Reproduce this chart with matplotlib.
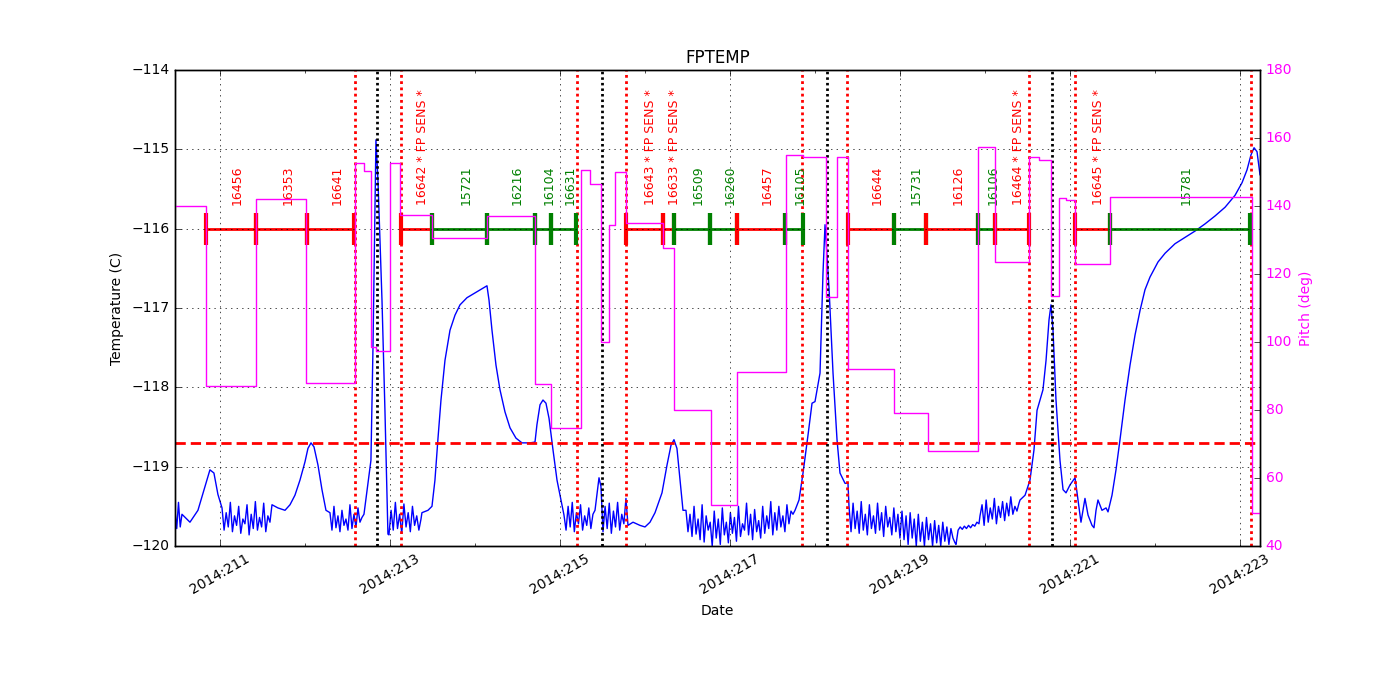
import numpy as np
import matplotlib
matplotlib.use("Agg")
import matplotlib.pyplot as plt
from matplotlib.ticker import FixedLocator, FuncFormatter

plt.style.use("classic")
plt.rcParams["figure.facecolor"] = "white"
plt.rcParams["savefig.facecolor"] = "white"
plt.rcParams["font.size"] = 10
plt.rcParams["font.family"] = ["DejaVu Sans"]

# ---- FPTEMP (day of 2014, degC) ----
# smooth stretches are (day, temp) pairs, noisy stretches are (day0, day1, temps)
fp_start = (210.471, 210.553, [-119.55, -119.78, -119.45, -119.76, -119.60])
fp_bump_1 = [(210.647, -119.70), (210.741, -119.55), (210.824, -119.25), (210.882, -119.04),
             (210.929, -119.08), (210.976, -119.35)]
fp_noise_b = (211.024, 211.588, [-119.52, -119.80, -119.58, -119.76, -119.45, -119.82, -119.62, -119.74,
                                 -119.50, -119.84, -119.66, -119.72, -119.48, -119.86, -119.60, -119.78,
                                 -119.44, -119.80, -119.64, -119.76, -119.46, -119.82, -119.62, -119.70])
fp_bump_2 = [(211.612, -119.48), (211.682, -119.52), (211.765, -119.55), (211.824, -119.48),
             (211.882, -119.36), (211.941, -119.17), (212.0, -118.94), (212.035, -118.77),
             (212.071, -118.70), (212.106, -118.75), (212.153, -118.98), (212.2, -119.29),
             (212.247, -119.55)]
fp_noise_c = (212.294, 212.694, [-119.58, -119.80, -119.50, -119.77, -119.62, -119.82, -119.55, -119.74,
                                 -119.66, -119.80, -119.48, -119.78, -119.60, -119.76, -119.52, -119.70,
                                 -119.64, -119.60])
fp_spike_1 = [(212.718, -119.40), (212.776, -118.92), (212.8, -117.5), (212.835, -114.88),
              (212.859, -115.4), (212.906, -116.9), (212.941, -118.3), (212.976, -119.85)]
fp_noise_d = (212.988, 213.365, [-119.86, -119.55, -119.80, -119.45, -119.78, -119.60, -119.84, -119.47,
                                 -119.76, -119.58, -119.82, -119.50, -119.74, -119.62, -119.80, -119.66])
fp_warm_1 = [(213.376, -119.58), (213.447, -119.55), (213.494, -119.50), (213.529, -119.17),
             (213.565, -118.64), (213.6, -118.16), (213.647, -117.66), (213.706, -117.28),
             (213.765, -117.09), (213.824, -116.96), (213.906, -116.87), (214.0, -116.81),
             (214.094, -116.75), (214.141, -116.72), (214.165, -116.90), (214.2, -117.28),
             (214.247, -117.72), (214.294, -118.03), (214.353, -118.31), (214.412, -118.51),
             (214.482, -118.64), (214.553, -118.70), (214.647, -118.70), (214.706, -118.69),
             (214.729, -118.47), (214.765, -118.22), (214.8, -118.16), (214.835, -118.20),
             (214.871, -118.39), (214.918, -118.79), (214.965, -119.17), (215.012, -119.42)]
fp_noise_e = (215.047, 215.412, [-119.61, -119.80, -119.50, -119.76, -119.45, -119.82, -119.58, -119.72,
                                 -119.48, -119.80, -119.62, -119.74, -119.52, -119.78, -119.60, -119.55])
fp_bump_3 = [(215.435, -119.35), (215.459, -119.14), (215.482, -119.25)]
fp_noise_f = (215.506, 215.776, [-119.82, -119.50, -119.78, -119.46, -119.84, -119.56, -119.76, -119.45,
                                 -119.80, -119.60, -119.72, -119.40])
fp_bump_4 = [(215.8, -119.74), (215.859, -119.70), (215.941, -119.74), (216.0, -119.76),
             (216.059, -119.70), (216.118, -119.58), (216.2, -119.33), (216.259, -118.98),
             (216.306, -118.73), (216.341, -118.66), (216.376, -118.77), (216.412, -119.17),
             (216.447, -119.55)]
fp_noise_g = (216.482, 217.741, [-119.55, -119.82, -119.60, -119.88, -119.50, -119.85, -119.66, -119.92,
                                 -119.48, -119.95, -119.62, -119.80, -119.70, -120.00, -119.56, -119.90,
                                 -119.66, -119.98, -119.52, -119.86, -119.70, -119.96, -119.58, -119.84,
                                 -119.64, -119.94, -119.50, -119.88, -119.72, -119.80, -119.46, -119.86,
                                 -119.60, -119.92, -119.54, -119.82, -119.68, -119.90, -119.50, -119.84,
                                 -119.62, -119.78, -119.44, -119.86, -119.58, -119.80, -119.50, -119.76,
                                 -119.62, -119.82, -119.48, -119.72, -119.56, -119.60])
fp_spike_2 = [(217.765, -119.55), (217.812, -119.42), (217.859, -119.08), (217.918, -118.60),
              (217.965, -118.20), (218.0, -118.18), (218.059, -117.82), (218.094, -116.56),
              (218.118, -115.95), (218.165, -116.75), (218.212, -117.82), (218.259, -118.66),
              (218.294, -119.08), (218.353, -119.21), (218.388, -119.21)]
fp_noise_h = (218.4, 219.647, [-119.50, -119.82, -119.46, -119.78, -119.56, -119.84, -119.44, -119.80,
                               -119.60, -119.86, -119.48, -119.78, -119.62, -119.84, -119.46, -119.80,
                               -119.58, -119.88, -119.50, -119.76, -119.64, -119.86, -119.52, -119.82,
                               -119.60, -119.90, -119.56, -119.92, -119.62, -119.98, -119.58, -119.90,
                               -119.66, -120.00, -119.60, -119.94, -119.70, -120.00, -119.64, -119.92,
                               -119.72, -120.00, -119.68, -119.96, -119.74, -120.00, -119.70, -119.94,
                               -119.76, -119.98, -119.78, -119.90, -119.96])
fp_rumble = (219.659, 219.929, [-119.98, -119.80, -119.76, -119.79, -119.75, -119.78, -119.74, -119.77,
                                -119.73, -119.75, -119.70, -119.72])
fp_noise_i = (219.941, 220.4, [-119.62, -119.48, -119.74, -119.42, -119.70, -119.52, -119.66, -119.40,
                               -119.72, -119.50, -119.64, -119.44, -119.68, -119.46, -119.62, -119.38,
                               -119.60, -119.50, -119.56, -119.46])
fp_tail = [(220.412, -119.42), (220.471, -119.36), (220.529, -119.17), (220.576, -118.79),
           (220.612, -118.29), (220.647, -118.16), (220.682, -118.03), (220.718, -117.66),
           (220.753, -117.15), (220.776, -116.96), (220.8, -117.28), (220.835, -118.16),
           (220.882, -118.92), (220.918, -119.29), (220.953, -119.33), (221.0, -119.23),
           (221.059, -119.14), (221.094, -119.42), (221.129, -119.70), (221.153, -119.55),
           (221.176, -119.40), (221.212, -119.61), (221.259, -119.74), (221.282, -119.77),
           (221.306, -119.55), (221.329, -119.42), (221.376, -119.55), (221.424, -119.52),
           (221.447, -119.57), (221.494, -119.36), (221.541, -119.04), (221.588, -118.66),
           (221.647, -118.16), (221.706, -117.72), (221.765, -117.34), (221.824, -117.03),
           (221.882, -116.77), (221.941, -116.61), (222.035, -116.42), (222.118, -116.31),
           (222.235, -116.19), (222.353, -116.11), (222.471, -116.03), (222.588, -115.94),
           (222.706, -115.84), (222.824, -115.73), (222.941, -115.58), (223.024, -115.42),
           (223.082, -115.26), (223.129, -115.07), (223.165, -114.98), (223.2, -115.03),
           (223.235, -115.32)]

fp_pieces = [fp_start, fp_bump_1, fp_noise_b, fp_bump_2, fp_noise_c, fp_spike_1, fp_noise_d,
             fp_warm_1, fp_noise_e, fp_bump_3, fp_noise_f, fp_bump_4, fp_noise_g, fp_spike_2,
             fp_noise_h, fp_rumble, fp_noise_i, fp_tail]

# ---- pitch steps (day the value starts, deg) ----
pitch_day = [210.471, 210.835, 211.424, 212.012, 212.588, 212.694, 212.776, 212.835, 213.0, 213.118,
             213.494, 214.141, 214.706, 214.894, 215.247, 215.353, 215.482, 215.576, 215.647, 215.776,
             216.212, 216.341, 216.776, 217.082, 217.659, 217.859, 218.129, 218.259, 218.388, 218.929,
             219.329, 219.918, 220.118, 220.518, 220.635, 220.776, 220.871, 220.953, 221.059, 221.471,
             223.141, 223.235]
pitch_deg = [140, 87, 142, 88, 152.6, 150.2, 98.6, 97.5, 152.7, 137.4,
             130.7, 137, 87.6, 74.7, 150.6, 146.4, 100.1, 134.4, 150.1, 135.1,
             127.6, 80, 52.1, 91.2, 155, 154.3, 113.3, 154.5, 92, 79,
             68, 157.4, 123.5, 154.5, 153.5, 113.5, 142.4, 141.8, 122.9, 142.7,
             49.7, 49.7]

# ---- observations ----
obs_labels = ["16456", "16353", "16641", "16642 * FP SENS *", "15721", "16216", "16104", "16631",
              "16643 * FP SENS *", "16633 * FP SENS *", "16509", "16260", "16457", "16105", "16644",
              "15731", "16126", "16106", "16464 * FP SENS *", "16645 * FP SENS *", "15781"]
obs_colors = ["r", "r", "r", "r", "g", "g", "g", "g", "r", "r", "g", "g", "r", "g", "r",
              "g", "r", "g", "r", "r", "g"]
obs_start = [210.835, 211.424, 212.018, 213.124, 213.494, 214.141, 214.706, 214.894, 215.776, 216.212,
             216.341, 216.765, 217.082, 217.647, 218.388, 218.929, 219.306, 219.918, 220.118, 221.059,
             221.465]
obs_stop = [211.424, 212.018, 212.582, 213.494, 214.141, 214.706, 214.894, 215.194, 216.212, 216.341,
            216.765, 217.082, 217.647, 217.853, 218.929, 219.306, 219.918, 220.118, 220.518, 221.465,
            223.118]

radzone_days = [212.588, 213.124, 215.2, 215.776, 217.851, 218.382, 220.521, 221.059, 223.126]
perigee_days = [212.844, 215.494, 218.138, 220.785]
planning_limit = -118.7


def expand(piece):
    if isinstance(piece, tuple):
        d0, d1, vals = piece
        return list(np.linspace(d0, d1, len(vals))), list(vals)
    return [p[0] for p in piece], [p[1] for p in piece]


temp_day, temp_c = [], []
for piece in fp_pieces:
    d, t = expand(piece)
    temp_day += d
    temp_c += t

fig, ax = plt.subplots(figsize=(14, 7), dpi=100)
fig.subplots_adjust(left=0.125, right=0.9, bottom=0.22, top=0.9)

ax.plot(temp_day, temp_c, color="b", lw=1)
ax.axhline(planning_limit, color="r", lw=2, dashes=(7.4, 3.6))
for d in radzone_days:
    ax.axvline(d, color="r", lw=2, dashes=(2, 2.5))
for d in perigee_days:
    ax.axvline(d, color="k", lw=2, dashes=(1.8, 2.2))

for lab, c, s, e in zip(obs_labels, obs_colors, obs_start, obs_stop):
    ax.plot([s, e], [-116, -116], color=c, lw=2)
    ax.vlines([s, e], -116.2, -115.8, color=c, lw=3)
    ax.text((s + e) / 2, -115.7, lab, rotation=90, color=c, fontsize=9,
            ha="left", va="bottom")

ax.set_xlim(210.471, 223.235)
ax.set_ylim(-120, -114)
ax.xaxis.set_major_locator(FixedLocator(list(range(211, 224, 2))))
ax.xaxis.set_minor_locator(FixedLocator(list(range(212, 223, 2))))
ax.xaxis.set_major_formatter(FuncFormatter(lambda v, p: "2014:%03d" % int(round(v))))
ax.tick_params(axis="x", labelrotation=30)
ax.grid(True)
ax.set_title("FPTEMP")
ax.set_xlabel("Date")
ax.set_ylabel("Temperature (C)")

ax2 = ax.twinx()
ax2.step(pitch_day, pitch_deg, where="post", color="magenta", lw=1)
ax2.set_ylim(40, 180)
ax2.set_xlim(210.471, 223.235)
ax2.set_ylabel("Pitch (deg)", color="magenta")
ax2.tick_params(axis="y", labelcolor="magenta")

fig.savefig("out.png", dpi=100)
